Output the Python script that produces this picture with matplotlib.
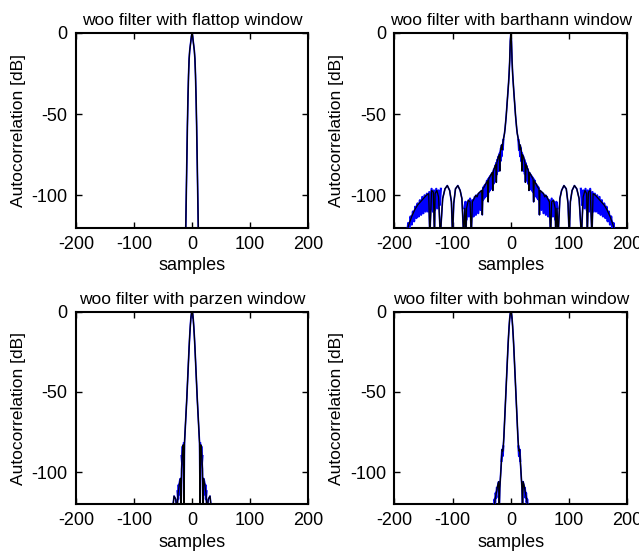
import numpy as np
import matplotlib
matplotlib.use("Agg")
import matplotlib.pyplot as plt

plt.rcParams["font.family"] = ["Liberation Sans", "DejaVu Sans"]
plt.rcParams["axes.unicode_minus"] = False

# ── Data (positive lags only, autocorrelation is symmetric) ───────────────────

WINDOWS = ["flattop", "barthann", "parzen", "bohman"]

FLAT_LAG = [0, 1, 2, 3, 4, 5, 6, 7, 8, 9, 10, 11]
FLAT_DB  = [0, -2, -5, -8, -11, -16, -26, -40, -58, -80, -102, -125]

BART_LAG = [0, 1, 2, 3, 4, 5, 6, 7, 8, 9, 10, 11, 12, 13, 14, 15, 16, 18, 19, 20,
            22, 24, 25, 26, 28, 30, 31, 32, 35, 38, 39, 40, 43, 46, 48, 49, 50,
            53, 56, 58, 60, 63, 66, 68, 70, 73, 76, 77, 79, 81, 84, 87, 91, 95,
            98, 100, 102, 105, 109, 113, 117, 121, 124, 127, 130, 131, 133, 136,
            139, 141, 145, 150, 155, 160, 165, 170, 175, 178]
BART_DB  = [0, -5, -17, -25, -31, -36, -41, -46, -51, -55, -59, -62, -64, -66, -68,
            -72, -69, -73, -85, -75, -77, -80, -92, -81, -83, -85, -97, -86, -88,
            -90, -104, -91, -93, -95, -96, -112, -97, -98, -99, -101, -100, -102,
            -104, -125, -104, -103, -108, -125, -108, -125, -102, -97, -94, -96,
            -105, -125, -104, -97, -94, -96, -102, -125, -101, -97, -99, -125,
            -98, -97, -125, -99, -100, -102, -104, -106, -109, -113, -118, -122]

# fast sample-to-sample ripple (blue), NaN separates the blobs
BART_BLUE_LAG = [13, 14, 15, 16, 17, 18, 19, 20, 21, 22, 23, 24, 25, 26, 27, 28,
                 29, 30, 31, 32, 33, 34, 35, 36, 37, 38, 39, 40, 41, 42, 43, 44,
                 45, 46, 47, 48, 50, 52, 54, 56, 58, 60, 62, 64, 66, 68, 70, 72,
                 74, 76, 78, 80, np.nan,
                 120, 122, 124, 126, 128, 130, 132, 134, 136, 138, 140, 142, 144,
                 146, 148, 150, 152, 154, 156, 158, 160, 162, 164, 166, 168, 170,
                 172, 174, 176, 178]
BART_BLUE_DB  = [-66, -72, -70, -76, -71, -79, -74, -82, -76, -85, -78, -87, -80,
                 -89, -82, -91, -84, -93, -86, -95, -87, -96, -88, -97, -89, -98,
                 -90, -99, -91, -100, -93, -101, -94, -102, -95, -103, -98, -109,
                 -99, -111, -100, -112, -101, -113, -103, -114, -102, -113, -104,
                 -115, -104, -108, np.nan,
                 -96, -106, -97, -108, -96, -109, -97, -110, -96, -109, -98, -110,
                 -99, -110, -100, -111, -101, -112, -103, -113, -105, -114, -107,
                 -116, -110, -118, -113, -121, -117, -124]

PARZ_LAG = [0, 1, 2, 3, 4, 5, 6, 7, 8, 9, 10, 11, 12, 13, 14, 15, 16, 17, 18, 19,
            20, 22, 24, 26, 28, 31, 34]
PARZ_DB  = [0, -1, -4, -9, -15, -22, -30, -38, -46, -54, -61, -68, -75, -82, -125,
            -83, -84, -90, -98, -125, -104, -108, -113, -125, -117, -115, -125]
PARZ_BLUE_LAG = [14, 15, 16, 17, 18, np.nan, 21, 22, 23, 24, 25]
PARZ_BLUE_DB  = [-82, -92, -84, -95, -90, np.nan, -106, -114, -108, -117, -112]

BOHM_LAG = [0, 1, 2, 3, 4, 5, 6, 7, 8, 9, 10, 11, 12, 13, 14, 15, 16, 17, 18, 19,
            20, 21, 23, 25, 27, 29]
BOHM_DB  = [0, -1, -4, -9, -15, -22, -30, -38, -46, -54, -62, -70, -78, -84, -87,
            -86, -92, -98, -104, -110, -125, -106, -109, -113, -117, -122]
BOHM_BLUE_LAG = [13, 14, 15, 16, np.nan, 24, 25, 26, 27, 28, 29]
BOHM_BLUE_DB  = [-84, -90, -86, -93, np.nan, -110, -116, -113, -119, -117, -123]

SERIES = {
    "flattop":  (FLAT_LAG, FLAT_DB, [], []),
    "barthann": (BART_LAG, BART_DB, BART_BLUE_LAG, BART_BLUE_DB),
    "parzen":   (PARZ_LAG, PARZ_DB, PARZ_BLUE_LAG, PARZ_BLUE_DB),
    "bohman":   (BOHM_LAG, BOHM_DB, BOHM_BLUE_LAG, BOHM_BLUE_DB),
}


def mirror(lag, db, gap=False):
    lag = np.asarray(lag, float)
    db = np.asarray(db, float)
    mid = [np.nan] if gap else []
    return (np.r_[-lag[::-1], mid, lag], np.r_[db[::-1], mid, db])


# ── Plot ──────────────────────────────────────────────────────────────────────

fig = plt.figure(figsize=(6.39, 5.57), dpi=100)
rects = [
    [0.119, 0.591, 0.363, 0.350],
    [0.617, 0.591, 0.365, 0.350],
    [0.119, 0.095, 0.363, 0.345],
    [0.617, 0.095, 0.365, 0.345],
]

for name, rect in zip(WINDOWS, rects):
    ax = fig.add_axes(rect)
    lag, db, blag, bdb = SERIES[name]
    x, y = mirror(lag, db)
    ax.plot(x, y, color="#0000ff", lw=1.2, zorder=2)
    if blag:
        bx, by = mirror(blag, bdb, gap=True)
        ax.plot(bx, by, color="#0000ff", lw=1.6, zorder=3)
    ax.plot(x, y, color="black", lw=0.9, zorder=4)

    ax.set_xlim(-200, 200)
    ax.set_ylim(-120, 0)
    ax.set_xticks([-200, -100, 0, 100, 200])
    ax.set_yticks([-100, -50, 0])
    ax.tick_params(direction="in", top=True, right=True, length=4,
                   width=1, labelsize=13, pad=6)
    for spine in ax.spines.values():
        spine.set_linewidth(1.5)
    ax.set_title(f"woo filter with {name} window", fontsize=12.5, pad=6)
    ax.set_xlabel("samples", fontsize=13, labelpad=3)
    ax.set_ylabel("Autocorrelation [dB]", fontsize=12.5, labelpad=4)

fig.savefig("out.png", dpi=100)
